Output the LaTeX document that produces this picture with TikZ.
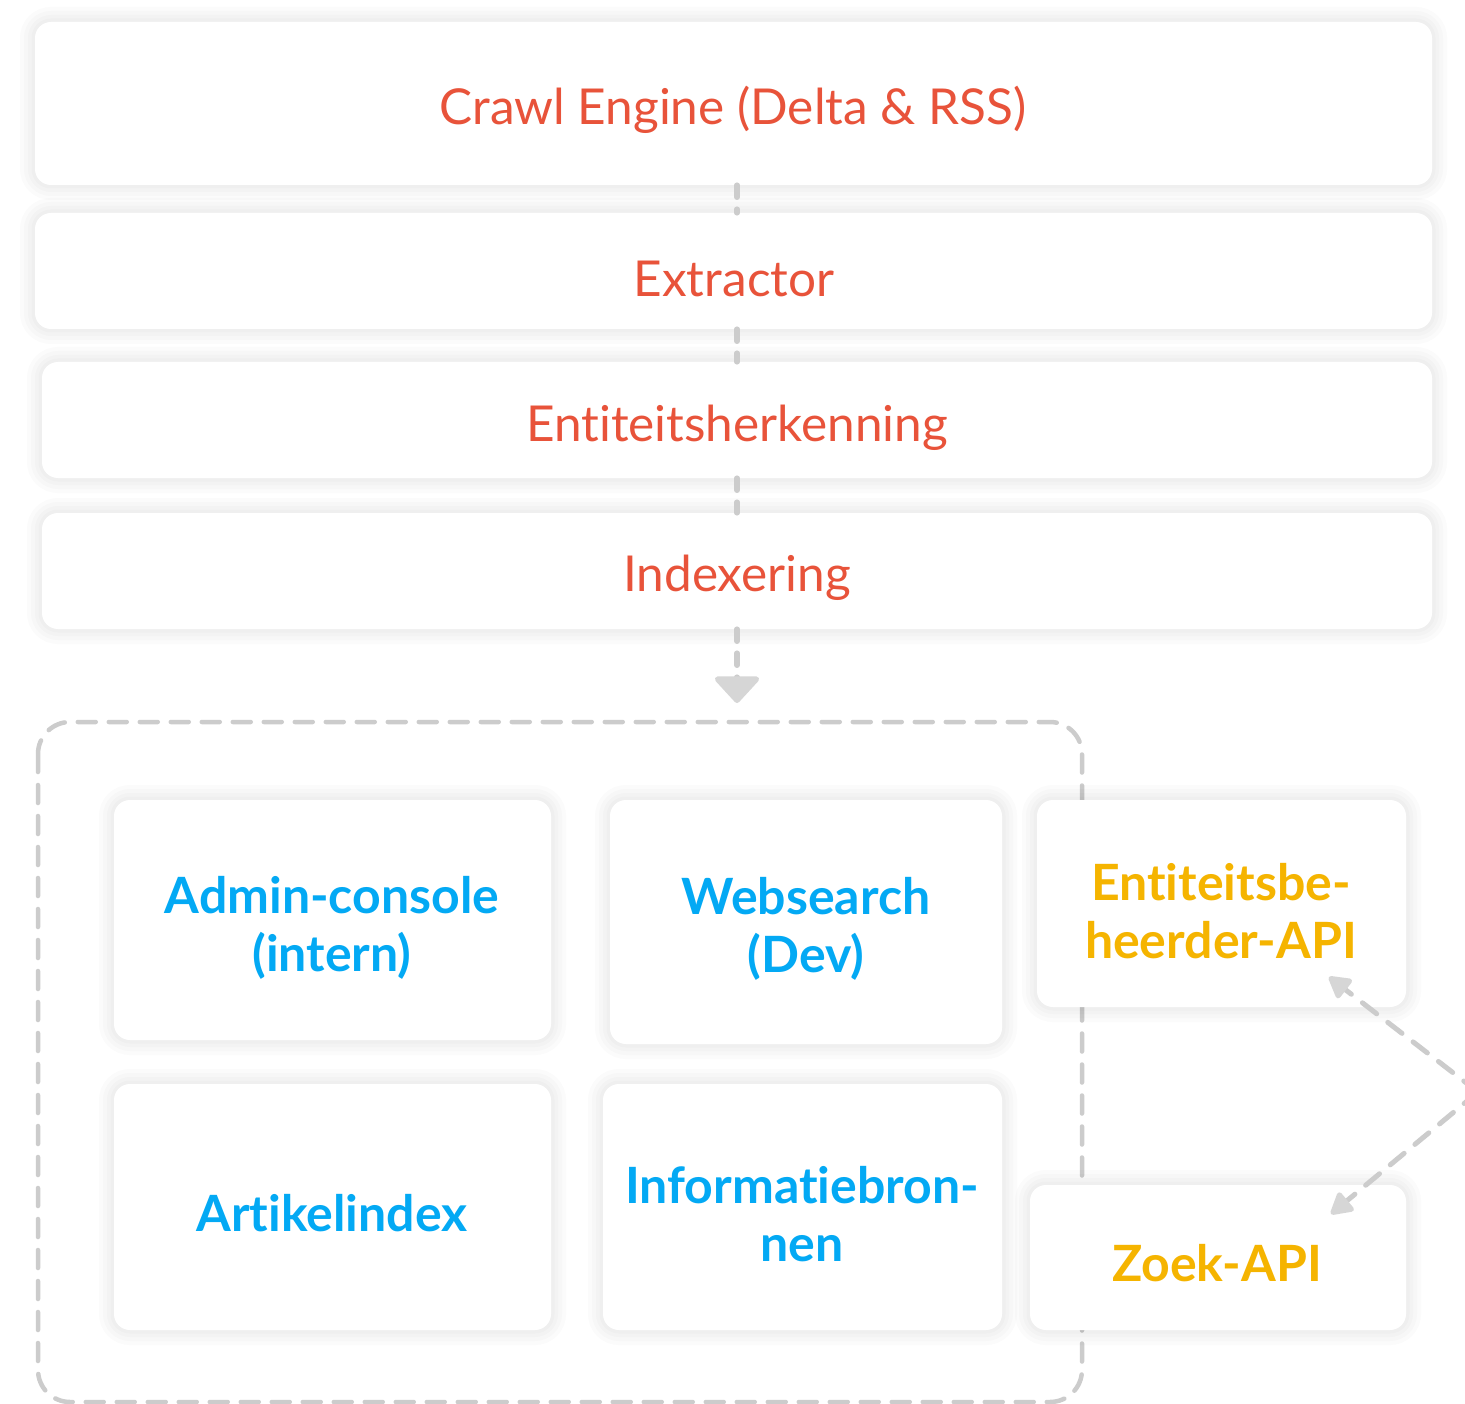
\documentclass[tikz,border=0pt]{standalone}
\usepackage{fontspec}
\setmainfont{Lato}[Ligatures=NoCommon]
\usetikzlibrary{arrows.meta}
\definecolor{redt}{HTML}{E8533A}
\definecolor{bluet}{HTML}{03A9F4}
\definecolor{ambert}{HTML}{F5B400}
\definecolor{dashg}{HTML}{CCCCCC}
\definecolor{headg}{HTML}{D6D6D6}
\tikzset{
  glow/.style={preaction={draw=black, draw opacity=#1, line width=30pt},
               preaction={draw=black, draw opacity=#1, line width=22pt},
               preaction={draw=black, draw opacity=#1, line width=14pt},
               preaction={draw=black, draw opacity=#1, line width=7pt}},
  card/.style={fill=white, draw=none, rounded corners=16pt, glow=0.014},
  redtxt/.style={text=redt, font=\fontsize{49.5}{58}\selectfont, inner sep=0pt},
  bluetxt/.style={text=bluet, font=\fontsize{50}{58}\selectfont\bfseries, align=center, inner sep=0pt},
  ambtxt/.style={text=ambert, font=\fontsize{50}{58}\selectfont\bfseries, align=center, inner sep=0pt},
  flow/.style={draw=dashg, line width=5.5pt, line cap=round, dash pattern=on 12pt off 12pt},
  side/.style={draw=dashg, line width=5pt, line cap=round, dash pattern=on 18pt off 14pt,
    -{Triangle[width=26pt,length=24pt,round,fill=headg,color=headg]}},
}
\begin{document}
\begin{tikzpicture}[x=1pt,y=-1pt]
\useasboundingbox[fill=white] (0,0) rectangle (1465,1404);
% container
\draw[dashg, line width=4.5pt, line cap=round, dash pattern=on 18pt off 13pt, rounded corners=32pt]
  (38,722) rectangle (1082,1402);
% top pipeline
\node[card, minimum width=1397pt, minimum height=163pt] (crawl) at (733.5,103.5) {};
\node[card, minimum width=1397pt, minimum height=116pt] (extr) at (733.5,271) {};
\node[card, minimum width=1390pt, minimum height=116pt] (ent) at (737,420) {};
\node[card, minimum width=1390pt, minimum height=116pt] (idx) at (737,571) {};
\node[redtxt] (crawlt) at (733,110) {Crawl Engine (Delta \& RSS)};
\node[redtxt] (extrt) at (734,279) {Extractor};
\node[redtxt] (entt) at (737,428) {Entiteitsherkenning};
\node[redtxt] (idxt) at (737,578) {Indexering};
\coordinate (tip) at (737,703);
\draw[flow] (crawl.south -| tip) -- (extr.north -| tip);
\draw[flow] (extr.south -| tip) -- (ent.north -| tip);
\draw[flow] (ent.south -| tip) -- (idx.north -| tip);
\draw[flow, -{Triangle[width=50pt,length=28pt,round,fill=headg,color=headg]}] (idx.south -| tip) -- (tip);
% inner cards
\node[card, minimum width=437pt, minimum height=240pt] (admin) at (332.5,920) {};
\node[card, minimum width=392pt, minimum height=244pt] (web) at (806,922) {};
\node[card, minimum width=437pt, minimum height=246pt] (art) at (332.5,1207) {};
\node[card, minimum width=399pt, minimum height=246pt] (info) at (802.5,1207) {};
\node[card, minimum width=369pt, minimum height=207pt] (eapi) at (1221.5,903.5) {};
\node[card, minimum width=376pt, minimum height=145pt] (zapi) at (1218,1257.5) {};
\node[bluetxt] (admint) at (332,928) {Admin-console\\(intern)};
\node[bluetxt] (webt) at (806,929) {Websearch\\(Dev)};
\node[bluetxt] (artt) at (332,1213) {Artikelindex};
\node[bluetxt] (infot) at (802,1214) {Informatiebron-\\nen};
\node[ambtxt] (eapit) at (1221,911) {Entiteitsbe-\\heerder-API};
\node[ambtxt] (zapit) at (1217,1263) {Zoek-API};
% side arrows
\coordinate (v) at (1478,1092);
\coordinate (etip) at (1329,977);
\coordinate (ztip) at (1331,1214);
\draw[side] (v) -- (etip);
\draw[side] (v) -- (ztip);
\end{tikzpicture}
\end{document}
